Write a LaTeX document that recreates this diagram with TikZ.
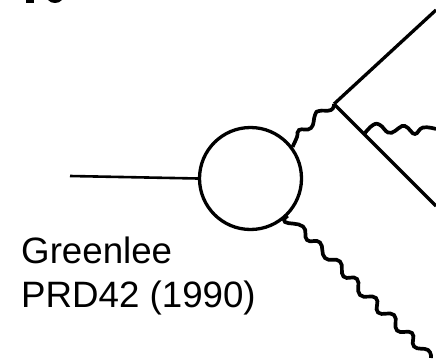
\documentclass[tikz,border=0pt]{standalone}
\usepackage{fontspec}
\setmainfont{Liberation Sans}
\tikzset{>=latex}
\tikzset{line/.style={line width=3.3pt, black},
         photon/.style={line width=3.7pt, black, smooth, tension=0.8},
         label/.style={align=left, anchor=north west, inner sep=0pt, font=\fontsize{36.7}{44.5}\selectfont}}
\begin{document}
\begin{tikzpicture}[x=1pt, y=-1pt]
    \useasboundingbox (0, 0) rectangle (436, 361);
    % cut off bits at the top edge
    \fill (26, 0) rectangle (34, 3);
    \fill (48, 0) .. controls (51, 4) and (59, 4) .. (62, 0) -- cycle;
    % blob and the line coming in
    \node[circle, draw=black, line width=3.3pt, minimum size=102pt, inner sep=0pt] (blob) at (250.5, 178.5) {};
    \coordinate (in) at (70, 176);
    \draw[line, line width=2.6pt] (in) -- (blob.west);
    % upper photon goes to the pair vertex
    \coordinate (vtx) at (334, 104);
    \coordinate (outA) at (436, 10);
    \coordinate (outB) at (436, 206);
    \draw[line] (vtx) -- (outA);
    \draw[line] (vtx) -- (outB);
    \draw[photon] plot coordinates {(blob.37) (297, 137) (299, 130) (311, 128) (315, 115) (319, 111) (331, 110) (vtx)};
    % photon off the lower line
    \coordinate (em) at (365, 133);
    \coordinate (outC) at (436, 129);
    \draw[photon] plot coordinates {(em) (373, 125) (380, 125) (388, 132.5) (395, 131) (402, 126) (408, 128) (415, 134) (423, 127.5) (outC)};
    % lower photon
    \coordinate (outD) at (431, 358);
    \draw[photon] plot coordinates {(blob.-45) (285, 222) (303, 226.5) (307, 240) (320, 242.5) (325, 258) (340, 261.5) (343.5, 276.5) (357, 279) (360, 295) (376, 298) (378, 312.5) (394, 315) (397, 330.5) (412, 333) (414, 346.5) (428, 350) (outD)};
    \node[label] (cite) at (21, 236.5) {Greenlee\\PRD42 (1990)};
\end{tikzpicture}
\end{document}
